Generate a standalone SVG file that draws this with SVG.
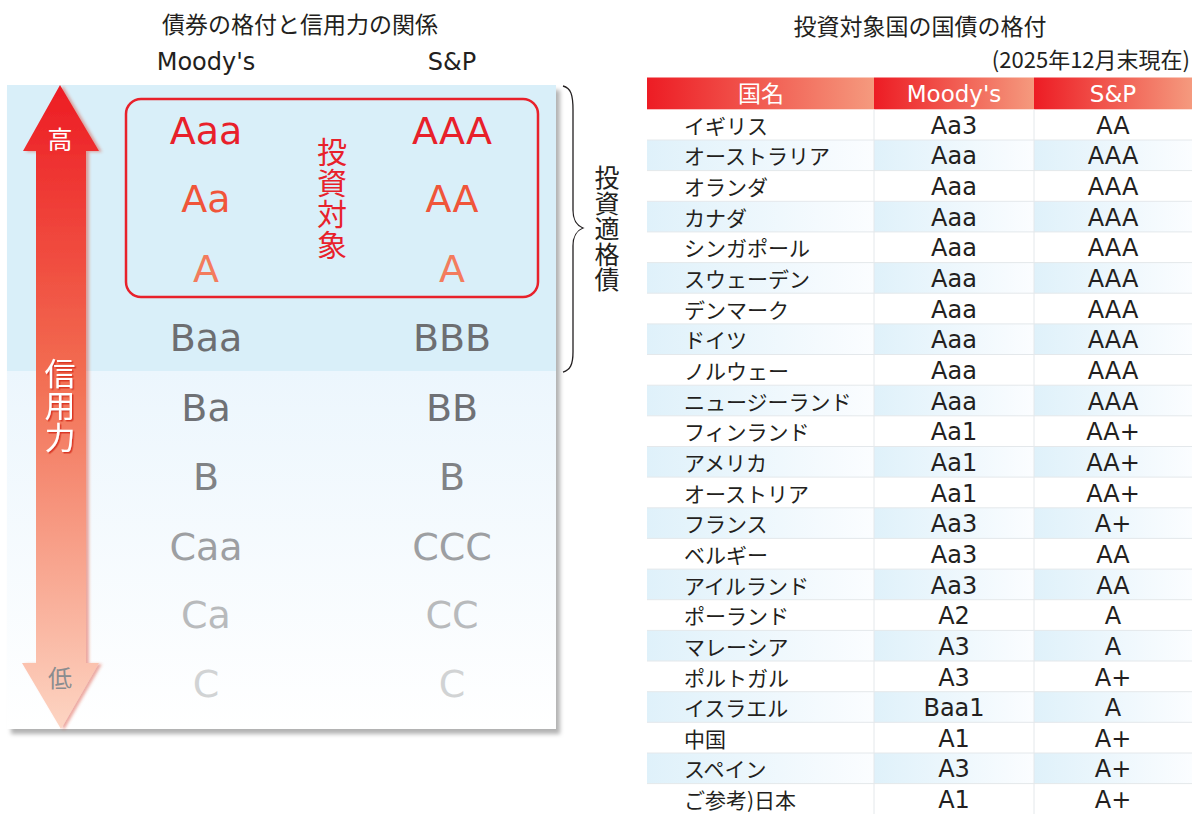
<svg xmlns="http://www.w3.org/2000/svg" width="1192" height="814" viewBox="0 0 1192 814">
<defs>
<style>
.t{font-family:"Noto Sans CJK JP","Noto Sans",sans-serif;fill:#231f20}
.v{writing-mode:vertical-rl;text-orientation:upright}
.l{font-family:"DejaVu Sans","Noto Sans CJK JP",sans-serif}
.rt{font-family:"DejaVu Sans","Noto Sans CJK JP",sans-serif;font-size:38px;text-anchor:middle}
.nm{font-family:"Noto Sans CJK JP",sans-serif;font-size:21px;fill:#231f20}
.rv{font-family:"DejaVu Sans","Noto Sans CJK JP",sans-serif;font-size:24px;fill:#231f20;text-anchor:middle}
.hd{fill:#ffffff;font-size:23px;text-anchor:middle}
.grid{stroke:#e4e8eb;stroke-width:1}
</style>
<linearGradient id="gArrow" x1="0" y1="85" x2="0" y2="729" gradientUnits="userSpaceOnUse">
<stop offset="0" stop-color="#ed1c24"/>
<stop offset="0.45" stop-color="#f26d52"/>
<stop offset="1" stop-color="#fdd5c3"/>
</linearGradient>
<linearGradient id="gLow" x1="0" y1="0" x2="0" y2="1">
<stop offset="0" stop-color="#ecf6fd"/>
<stop offset="1" stop-color="#ffffff"/>
</linearGradient>
<linearGradient id="gHead" x1="0" y1="0" x2="1" y2="0">
<stop offset="0" stop-color="#ed1c24"/>
<stop offset="1" stop-color="#f59a7e"/>
</linearGradient>
<linearGradient id="gStripe" x1="0" y1="0" x2="1" y2="0">
<stop offset="0" stop-color="#dff1fa"/>
<stop offset="1" stop-color="#fbfdff"/>
</linearGradient>
<filter id="fPanel" x="-5%" y="-5%" width="110%" height="110%">
<feDropShadow dx="4" dy="5" stdDeviation="2" flood-color="#000" flood-opacity="0.3"/>
</filter>
<filter id="fArrow" x="-30%" y="-5%" width="160%" height="110%">
<feDropShadow dx="3" dy="1" stdDeviation="1.5" flood-color="#d9402e" flood-opacity="0.45"/>
</filter>
<filter id="fTxt" x="-20%" y="-20%" width="140%" height="140%">
<feDropShadow dx="1.5" dy="1.5" stdDeviation="0.3" flood-color="#d7331f" flood-opacity="0.9"/>
</filter>
</defs>

<g id="left-titles">
<text class="t" x="300" y="33" font-size="23" text-anchor="middle">債券の格付と信用力の関係</text>
<text class="l" x="206" y="70" font-size="24" fill="#231f20" text-anchor="middle">Moody's</text>
<text class="l" x="452" y="70" font-size="24" fill="#231f20" text-anchor="middle">S&amp;P</text>
</g>

<g id="panel">
<rect x="7" y="85" width="549" height="644" fill="#ffffff" filter="url(#fPanel)"/>
<rect x="7" y="85" width="549" height="286" fill="#d9eff9"/>
<rect x="7" y="371" width="549" height="358" fill="url(#gLow)"/>
</g>

<g id="arrow">
<path d="M60,85 L99,151 L86,151 L86,663 L99,663 L61,729 L22,663 L36,663 L36,151 L23,151 Z" fill="url(#gArrow)" filter="url(#fArrow)"/>
<text class="t" x="60" y="149" font-size="25" text-anchor="middle" style="fill:#ffffff">高</text>
<text class="t v" x="60" y="358" font-size="31" letter-spacing="1" style="fill:#ffffff" filter="url(#fTxt)">信用力</text>
<text class="t" x="60" y="687" font-size="24" text-anchor="middle" style="fill:#8a8c8f">低</text>
</g>

<g id="target-box">
<rect x="126" y="99" width="412" height="198" rx="15" ry="15" fill="none" stroke="#e8212b" stroke-width="2.5"/>
<text class="t v" x="332" y="137" font-size="30" letter-spacing="1" style="fill:#e8212b">投資対象</text>
</g>

<g id="ratings">
<text class="rt" x="206" y="144" fill="#e8202a">Aaa</text>
<text class="rt" x="452" y="144" fill="#e8202a">AAA</text>
<text class="rt" x="206" y="212" fill="#f0553a">Aa</text>
<text class="rt" x="452" y="212" fill="#f0553a">AA</text>
<text class="rt" x="206" y="282" fill="#f37c5e">A</text>
<text class="rt" x="452" y="282" fill="#f37c5e">A</text>
<text class="rt" x="206" y="351" fill="#6d6e71">Baa</text>
<text class="rt" x="452" y="351" fill="#6d6e71">BBB</text>
<text class="rt" x="206" y="421" fill="#6f7175">Ba</text>
<text class="rt" x="452" y="421" fill="#6f7175">BB</text>
<text class="rt" x="206" y="490" fill="#808285">B</text>
<text class="rt" x="452" y="490" fill="#808285">B</text>
<text class="rt" x="206" y="560" fill="#9d9fa2">Caa</text>
<text class="rt" x="452" y="560" fill="#9d9fa2">CCC</text>
<text class="rt" x="206" y="628" fill="#b8babc">Ca</text>
<text class="rt" x="452" y="628" fill="#b8babc">CC</text>
<text class="rt" x="206" y="697" fill="#d1d3d4">C</text>
<text class="rt" x="452" y="697" fill="#d1d3d4">C</text>
</g>

<g id="connectors">
<path d="M563,86 C571,88 573,95 573,110 L573,210 C573,220 576,225 583,228 C576,231 573,236 573,246 L573,352 C573,365 570,370 563,372" fill="none" stroke="#231f20" stroke-width="1.3"/>
</g>

<g id="investment-grade-label">
<text class="t v" x="607" y="165" font-size="25" letter-spacing="0.6">投資適格債</text>
</g>

<g id="table-titles">
<text class="t" x="920" y="35" font-size="23" text-anchor="middle">投資対象国の国債の格付</text>
<text class="t" x="1190" y="68" font-size="22" text-anchor="end">(2025年12月末現在)</text>
</g>

<g id="table-header">
<rect x="647" y="77.5" width="227" height="31.8" fill="url(#gHead)"/>
<rect x="874" y="77.5" width="160" height="31.8" fill="url(#gHead)"/>
<rect x="1034" y="77.5" width="158" height="31.8" fill="url(#gHead)"/>
<text class="t hd" x="761" y="102">国名</text>
<text class="l hd" x="954" y="102" font-size="24">Moody's</text>
<text class="l hd" x="1113" y="102" font-size="24">S&amp;P</text>
</g>

<g id="table-stripes">
<rect x="647" y="140" width="227" height="30.6" fill="url(#gStripe)"/><rect x="874" y="140" width="160" height="30.6" fill="url(#gStripe)"/><rect x="1034" y="140" width="158" height="30.6" fill="url(#gStripe)"/>
<rect x="647" y="201.3" width="227" height="30.6" fill="url(#gStripe)"/><rect x="874" y="201.3" width="160" height="30.6" fill="url(#gStripe)"/><rect x="1034" y="201.3" width="158" height="30.6" fill="url(#gStripe)"/>
<rect x="647" y="262.6" width="227" height="30.6" fill="url(#gStripe)"/><rect x="874" y="262.6" width="160" height="30.6" fill="url(#gStripe)"/><rect x="1034" y="262.6" width="158" height="30.6" fill="url(#gStripe)"/>
<rect x="647" y="323.9" width="227" height="30.6" fill="url(#gStripe)"/><rect x="874" y="323.9" width="160" height="30.6" fill="url(#gStripe)"/><rect x="1034" y="323.9" width="158" height="30.6" fill="url(#gStripe)"/>
<rect x="647" y="385.2" width="227" height="30.6" fill="url(#gStripe)"/><rect x="874" y="385.2" width="160" height="30.6" fill="url(#gStripe)"/><rect x="1034" y="385.2" width="158" height="30.6" fill="url(#gStripe)"/>
<rect x="647" y="446.5" width="227" height="30.6" fill="url(#gStripe)"/><rect x="874" y="446.5" width="160" height="30.6" fill="url(#gStripe)"/><rect x="1034" y="446.5" width="158" height="30.6" fill="url(#gStripe)"/>
<rect x="647" y="507.8" width="227" height="30.6" fill="url(#gStripe)"/><rect x="874" y="507.8" width="160" height="30.6" fill="url(#gStripe)"/><rect x="1034" y="507.8" width="158" height="30.6" fill="url(#gStripe)"/>
<rect x="647" y="569.1" width="227" height="30.6" fill="url(#gStripe)"/><rect x="874" y="569.1" width="160" height="30.6" fill="url(#gStripe)"/><rect x="1034" y="569.1" width="158" height="30.6" fill="url(#gStripe)"/>
<rect x="647" y="630.4" width="227" height="30.6" fill="url(#gStripe)"/><rect x="874" y="630.4" width="160" height="30.6" fill="url(#gStripe)"/><rect x="1034" y="630.4" width="158" height="30.6" fill="url(#gStripe)"/>
<rect x="647" y="691.7" width="227" height="30.6" fill="url(#gStripe)"/><rect x="874" y="691.7" width="160" height="30.6" fill="url(#gStripe)"/><rect x="1034" y="691.7" width="158" height="30.6" fill="url(#gStripe)"/>
<rect x="647" y="753" width="227" height="30.6" fill="url(#gStripe)"/><rect x="874" y="753" width="160" height="30.6" fill="url(#gStripe)"/><rect x="1034" y="753" width="158" height="30.6" fill="url(#gStripe)"/>
</g>

<g id="table-grid" class="grid">
<line x1="874" y1="109.3" x2="874" y2="814"/>
<line x1="1034" y1="109.3" x2="1034" y2="814"/>
<path d="M647,140H1192M647,170.6H1192M647,201.3H1192M647,231.9H1192M647,262.6H1192M647,293.2H1192M647,323.9H1192M647,354.5H1192M647,385.2H1192M647,415.8H1192M647,446.5H1192M647,477.1H1192M647,507.8H1192M647,538.4H1192M647,569.1H1192M647,599.7H1192M647,630.4H1192M647,661H1192M647,691.7H1192M647,722.3H1192M647,753H1192M647,783.6H1192" fill="none"/>
</g>

<g id="table-rows">
<g id="row-uk"><text class="nm" x="684" y="133.8">イギリス</text><text class="rv" x="954" y="133.8">Aa3</text><text class="rv" x="1113" y="133.8">AA</text></g>
<g id="row-au"><text class="nm" x="684" y="164.4">オーストラリア</text><text class="rv" x="954" y="164.4">Aaa</text><text class="rv" x="1113" y="164.4">AAA</text></g>
<g id="row-nl"><text class="nm" x="684" y="195.1">オランダ</text><text class="rv" x="954" y="195.1">Aaa</text><text class="rv" x="1113" y="195.1">AAA</text></g>
<g id="row-ca"><text class="nm" x="684" y="225.7">カナダ</text><text class="rv" x="954" y="225.7">Aaa</text><text class="rv" x="1113" y="225.7">AAA</text></g>
<g id="row-sg"><text class="nm" x="684" y="256.4">シンガポール</text><text class="rv" x="954" y="256.4">Aaa</text><text class="rv" x="1113" y="256.4">AAA</text></g>
<g id="row-se"><text class="nm" x="684" y="287">スウェーデン</text><text class="rv" x="954" y="287">Aaa</text><text class="rv" x="1113" y="287">AAA</text></g>
<g id="row-dk"><text class="nm" x="684" y="317.7">デンマーク</text><text class="rv" x="954" y="317.7">Aaa</text><text class="rv" x="1113" y="317.7">AAA</text></g>
<g id="row-de"><text class="nm" x="684" y="348.3">ドイツ</text><text class="rv" x="954" y="348.3">Aaa</text><text class="rv" x="1113" y="348.3">AAA</text></g>
<g id="row-no"><text class="nm" x="684" y="379">ノルウェー</text><text class="rv" x="954" y="379">Aaa</text><text class="rv" x="1113" y="379">AAA</text></g>
<g id="row-nz"><text class="nm" x="684" y="409.6">ニュージーランド</text><text class="rv" x="954" y="409.6">Aaa</text><text class="rv" x="1113" y="409.6">AAA</text></g>
<g id="row-fi"><text class="nm" x="684" y="440.3">フィンランド</text><text class="rv" x="954" y="440.3">Aa1</text><text class="rv" x="1113" y="440.3">AA+</text></g>
<g id="row-us"><text class="nm" x="684" y="470.9">アメリカ</text><text class="rv" x="954" y="470.9">Aa1</text><text class="rv" x="1113" y="470.9">AA+</text></g>
<g id="row-at"><text class="nm" x="684" y="501.6">オーストリア</text><text class="rv" x="954" y="501.6">Aa1</text><text class="rv" x="1113" y="501.6">AA+</text></g>
<g id="row-fr"><text class="nm" x="684" y="532.2">フランス</text><text class="rv" x="954" y="532.2">Aa3</text><text class="rv" x="1113" y="532.2">A+</text></g>
<g id="row-be"><text class="nm" x="684" y="562.9">ベルギー</text><text class="rv" x="954" y="562.9">Aa3</text><text class="rv" x="1113" y="562.9">AA</text></g>
<g id="row-ie"><text class="nm" x="684" y="593.5">アイルランド</text><text class="rv" x="954" y="593.5">Aa3</text><text class="rv" x="1113" y="593.5">AA</text></g>
<g id="row-pl"><text class="nm" x="684" y="624.2">ポーランド</text><text class="rv" x="954" y="624.2">A2</text><text class="rv" x="1113" y="624.2">A</text></g>
<g id="row-my"><text class="nm" x="684" y="654.8">マレーシア</text><text class="rv" x="954" y="654.8">A3</text><text class="rv" x="1113" y="654.8">A</text></g>
<g id="row-pt"><text class="nm" x="684" y="685.5">ポルトガル</text><text class="rv" x="954" y="685.5">A3</text><text class="rv" x="1113" y="685.5">A+</text></g>
<g id="row-il"><text class="nm" x="684" y="716.1">イスラエル</text><text class="rv" x="954" y="716.1">Baa1</text><text class="rv" x="1113" y="716.1">A</text></g>
<g id="row-cn"><text class="nm" x="684" y="746.8">中国</text><text class="rv" x="954" y="746.8">A1</text><text class="rv" x="1113" y="746.8">A+</text></g>
<g id="row-es"><text class="nm" x="684" y="777.4">スペイン</text><text class="rv" x="954" y="777.4">A3</text><text class="rv" x="1113" y="777.4">A+</text></g>
<g id="row-jp"><text class="nm" x="684" y="808.1">ご参考)日本</text><text class="rv" x="954" y="808.1">A1</text><text class="rv" x="1113" y="808.1">A+</text></g>
</g>
</svg>
